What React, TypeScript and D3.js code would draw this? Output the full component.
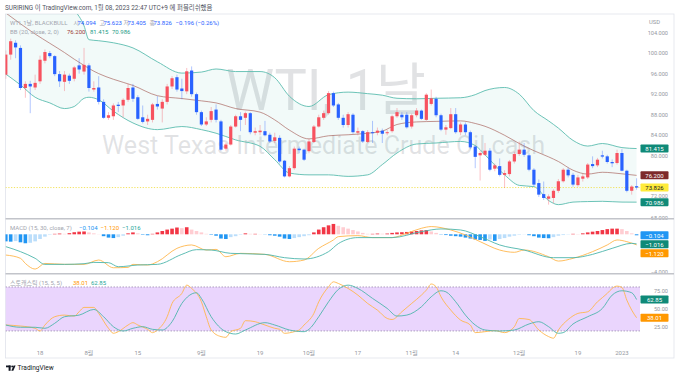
import React from "react";
import * as d3 from "d3";

const W = 680;
const H = 377;

// ---- daily candles (index 0 = Jul 7 2022 ... 129 = Jan 6 2023) ----
const opens = [95.8,99.7,102.0,101.0,93.2,94.0,93.3,94.5,98.5,100.0,
 99.4,95.9,94.4,95.6,95.0,97.6,96.4,97.6,92.9,93.3,
 90.5,87.4,87.7,89.95,89.8,90.9,93.3,91.4,87.5,86.7,
 87.0,90.1,89.2,90.5,93.5,95.3,93.1,92.55,96.6,92.0,
 88.5,86.1,87.0,89.0,86.7,81.4,82.2,85.7,87.7,87.4,
 88.3,84.5,84.6,84.8,84.1,82.9,83.5,79.05,76.0,77.6,
 81.4,81.2,80.9,82.7,85.7,87.4,88.3,92.2,90.0,87.4,
 86.0,88.0,84.5,84.8,82.7,84.6,84.5,84.9,84.4,84.8,
 87.7,88.0,88.0,85.7,87.9,88.8,87.0,90.1,91.1,87.9,
 85.1,85.4,88.1,84.6,86.1,84.6,81.8,80.1,80.2,81.0,
 77.5,78.0,76.3,76.45,78.9,80.35,81.2,80.1,77.3,74.7,
 72.55,71.65,71.8,73.2,75.05,77.3,76.3,74.3,75.55,75.8,
 78.4,78.15,80.1,79.9,78.8,78.6,80.55,77.1,73.2,74.094];
const highs = [100.5,102.8,102.5,101.5,94.5,94.6,95.8,99.5,100.7,100.4,
 99.6,96.5,96.5,96.0,97.5,99.0,101.0,98.0,94.5,95.5,
 91.0,88.5,90.2,90.5,91.2,94.0,94.0,91.8,89.8,88.0,
 90.3,91.6,91.0,94.0,95.5,95.8,95.0,97.1,97.4,92.3,
 88.8,87.5,89.5,90.0,87.0,82.5,86.0,88.0,88.5,88.6,
 88.5,85.5,86.0,86.8,84.5,84.5,84.0,79.2,78.0,81.8,
 81.8,81.4,83.3,86.0,88.0,88.8,92.6,92.5,90.3,88.0,
 88.5,88.3,85.5,85.0,85.0,86.8,85.5,85.3,85.0,88.0,
 89.3,88.5,88.5,88.2,89.3,89.0,92.2,92.9,91.5,88.2,
 86.0,89.3,89.3,86.5,86.5,84.9,82.0,81.0,82.5,81.5,
 78.5,79.5,77.2,79.2,80.8,82.8,82.5,80.5,77.6,75.4,
 75.0,72.5,73.5,75.5,77.6,77.7,76.7,76.3,76.5,78.6,
 79.9,79.6,81.0,80.2,79.3,81.2,81.3,77.3,74.3,75.623];
const lows = [95.0,98.7,99.0,92.8,91.3,88.3,92.8,94.0,98.0,99.0,
 95.5,93.4,92.6,94.0,94.5,96.0,95.8,92.5,92.5,90.0,
 87.2,87.0,87.0,88.5,87.5,90.5,90.5,87.0,86.3,86.0,
 86.5,89.0,86.5,90.0,93.0,92.5,91.0,92.0,91.5,88.0,
 85.8,85.8,86.5,86.5,81.0,81.0,82.0,85.5,84.8,86.0,
 84.2,84.0,84.0,83.8,82.5,82.5,78.5,75.8,75.8,77.3,
 80.5,79.0,80.5,82.5,85.5,87.0,88.0,89.5,87.0,85.5,
 85.5,84.3,84.0,82.5,82.5,82.5,84.0,82.5,84.0,84.5,
 87.4,87.0,85.3,85.3,87.5,87.0,86.8,89.8,87.5,84.8,
 84.1,85.2,84.3,84.0,84.0,81.3,77.6,75.2,80.0,77.0,
 77.0,76.0,73.75,76.0,78.5,80.0,79.8,77.0,74.0,72.0,
 71.4,70.5,70.8,72.8,74.8,75.8,74.0,74.0,75.0,75.5,
 77.6,77.8,79.5,78.5,77.8,78.3,77.0,72.9,72.45,73.405];
const closes = [99.7,102.3,101.1,93.2,94.0,93.5,94.2,98.7,100.2,99.4,
 95.9,94.5,95.8,94.6,97.2,96.8,97.7,93.2,93.2,90.5,
 87.4,87.9,89.8,89.7,90.9,93.2,91.1,87.2,86.6,87.2,
 90.0,89.6,90.5,93.5,95.1,92.9,92.6,96.45,92.0,88.5,
 86.1,86.7,88.7,87.0,81.2,82.2,85.7,87.7,87.0,88.3,
 84.6,84.8,84.9,84.0,82.8,83.6,78.9,76.0,77.6,81.4,
 81.1,79.25,82.8,85.7,87.5,88.3,92.2,89.8,87.4,86.0,
 88.1,84.6,84.8,82.8,84.6,84.4,84.9,84.3,84.6,87.7,
 88.5,87.5,85.55,87.9,88.8,87.2,91.9,91.2,87.9,85.1,
 85.55,88.1,84.6,86.1,84.6,81.65,79.8,80.55,81.0,77.3,
 78.15,76.3,76.65,78.9,80.35,81.2,80.2,77.3,74.4,72.45,
 71.8,72.1,73.2,75.05,77.3,76.2,74.4,75.8,76.0,78.3,
 78.0,79.25,79.85,78.8,78.55,80.55,77.1,73.2,74.02,73.826];

// ---- Bollinger bands (read at these bar indices) ----
const bbIdx = [0,3,6,9,12,14,16,17,19,22,26,31,36,40,43,47,52,55,58,62,66,70,74,77,80,84,88,93,96,98,102,105,108,111,113,116,119,122,126,129];
const bbUpper = [113,112.5,112,111,109.5,108.3,105.3,102.6,102.4,102.0,101.0,98.3,96.1,96.3,96.9,96.4,96.4,95.2,91.6,89.6,91.9,92.4,92.1,91.8,91.2,91.1,91.2,91.3,91.9,92.7,93.3,92.0,88.8,86.8,85.4,83.0,81.9,82.4,81.6,81.415];
const bbBasis = [107.8,105.7,103.7,101.9,100.1,98.8,97.6,97.0,96.0,94.9,93.7,91.7,91.15,90.7,90.3,89.2,88.5,87.0,85.0,83.3,83.9,84.1,84.4,84.8,86.1,86.6,86.7,86.8,86.3,85.75,84.0,82.4,81.0,79.8,78.9,77.2,76.45,76.8,76.5,76.2];
const bbLower = [95.9,93.8,91.4,90.3,89.2,89.6,91.2,91.4,90.9,88.7,86.4,85.1,85.7,85.1,84.4,83.1,81.85,79.25,76.65,76.3,76.3,76.0,76.3,78.3,80.55,82.3,82.5,82.8,82.0,80.2,76.3,74.25,74.0,71.3,70.5,71.0,71.1,71.15,71.0,70.986];

// ---- MACD (15, 30, close, 7) ----
const macdHist = [-0.75,-0.78,-0.72,-0.85,-0.95,-0.9,-0.75,-0.5,-0.25,-0.05,
 0.05,0.08,0.05,0.12,0.22,0.28,0.3,0.2,0.1,0.02,
 -0.2,-0.35,-0.4,-0.3,-0.15,0.1,0.2,0.1,-0.05,-0.1,
 0.05,0.2,0.35,0.5,0.6,0.72,0.65,0.75,0.5,0.35,
 0.2,0.05,-0.05,-0.15,-0.45,-0.5,-0.3,-0.2,-0.05,0.1,
 0.05,0.05,0.02,-0.02,-0.1,-0.15,-0.25,-0.45,-0.5,-0.4,
 -0.3,-0.2,-0.1,0.2,0.5,0.75,0.95,1.1,0.9,0.75,
 0.6,0.45,0.3,0.15,0.05,0.05,0.08,0.06,0.08,0.15,
 0.2,0.22,0.25,0.3,0.35,0.42,0.45,0.3,0.15,-0.03,
 -0.08,-0.15,-0.2,-0.25,-0.35,-0.45,-0.55,-0.6,-0.7,-0.55,
 -0.7,-0.5,-0.4,-0.25,-0.15,-0.05,-0.02,-0.1,-0.2,-0.35,
 -0.4,-0.42,-0.3,-0.15,-0.08,-0.03,0.05,0.03,0.1,0.2,
 0.28,0.35,0.45,0.55,0.6,0.6,0.55,0.35,0.1,-0.104];
const macdIdx = [0,3,4,6,8,12,16,19,22,25,26,29,31,35,38,41,43,45,48,53,58,61,64,67,68,72,75,79,82,85,87,91,94,97,101,104,106,111,113,116,120,123,125,127,129];
const macdLine = [-2.2,-2.55,-3.09,-3.69,-3.09,-3.19,-3.19,-2.73,-3.55,-3.51,-3.19,-3.26,-2.91,-1.49,-1.13,-1.67,-1.6,-2.38,-2.02,-2.13,-2.91,-2.73,-1.49,-0.6,-0.25,-0.14,-0.35,-0.35,0.11,0.64,0.82,0.46,-0.07,-0.78,-1.67,-1.91,-1.67,-2.38,-2.84,-2.55,-1.84,-1.13,-0.6,-0.78,-1.12];
const sigIdx = [0,3,6,8,12,16,18,21,23,27,31,36,39,42,46,53,57,61,66,68,72,79,85,89,93,97,101,106,112,116,120,124,128,129];
const sigLine = [-1.31,-1.84,-2.55,-3.19,-3.19,-3.12,-2.98,-3.01,-3.44,-3.26,-3.19,-2.13,-1.63,-1.67,-2.02,-2.13,-2.48,-2.62,-1.84,-0.99,-0.35,-0.35,0.28,0.57,0.46,-0.25,-1.13,-1.67,-2.48,-2.48,-2.13,-1.49,-0.96,-1.016];

// ---- Stochastic (15, 5, 5) ----
const kIdx = [0,3,6,7,8,10,12,14,15,16,18,19,21,22,23,25,26,27,29,30,31,33,34,36,37,38,40,41,42,44,45,46,48,49,51,52,53,55,56,57,59,60,61,63,64,66,67,68,70,72,74,76,78,79,81,83,85,86,87,88,89,91,93,95,96,98,100,102,104,105,107,109,111,112,113,115,117,119,121,123,124,125,126,127,128,129];
const kVal = [28.1,26.7,23.6,19.9,28.1,39.4,41.6,40.3,46.2,52.1,52.1,43.9,23.6,16.8,19,28.1,31.3,28.1,22.2,17.7,21.3,39.4,57.5,71.2,82.5,78,59.8,39.4,21.3,12.3,11.3,19,23.6,34,32.6,30.4,28.1,23.6,22.2,16.8,19,21.3,28.1,43.9,59.8,80.2,87,84.8,78,68.9,57.5,48.4,37,35.6,46.2,57.5,68.9,75.7,84,80.2,66.6,48.4,34.8,28.1,17.7,19,20.5,17.7,25.8,37,35.6,21.3,12.3,10.1,21.3,35.6,43.9,46.2,59.8,71.2,78,81.2,79.4,62.1,48.4,38.01];
const dIdx = [0,3,6,8,10,12,15,18,20,22,24,26,28,30,32,34,36,39,40,42,45,47,49,53,55,58,61,62,64,66,68,70,72,75,78,80,82,85,87,89,90,92,94,96,98,101,104,107,109,111,113,114,116,119,122,124,126,128,129];
const dVal = [28.1,25,25,23.6,30.4,39.4,41.6,49.3,39.4,25.8,19.9,23.6,25.8,22.2,21.3,32.6,57.5,72.1,64.4,39.4,19,15.8,21.3,31.3,28.1,21.3,19,22.2,39.4,59.8,76.6,82.5,78,64.4,50.7,40.3,41.6,53,66.6,74.8,73.4,59.8,41.6,28.1,21.3,19.9,21.3,29.5,32.6,25.8,16.8,17.7,29.5,39.4,50.7,68.9,74.8,72.1,62.85];

// ---- axes ----
const priceTicks = [104, 100, 96, 92, 88, 84, 80, 76, 72, 68];
const stochTicks = [75, 50, 25];
const macdTicks = [-4];
const timeTickIdx = [7, 17, 27, 40, 52, 62, 72, 83, 92, 105, 117, 126];
const timeTickLabels = ["18", "8월", "15", "9월", "19", "10월", "17", "11월", "14", "12월", "19", "2023"];

const FONT = "Roboto, 'Noto Sans CJK KR', 'DejaVu Sans', sans-serif";
const UP = "#f7525f";
const DOWN = "#2962ff";
const TEAL = "#26a69a";
const ORANGE = "#ffb74d";
const AXIS_TXT = "#9598a1";

export default function App() {
  const n = closes.length;
  const x = d3.scaleLinear().domain([0, n - 1]).range([5.8, 636.6]);
  const yP = d3.scaleLinear().domain([68, 104]).range([217.5, 32.5]);
  const yM = d3.scaleLinear().domain([-4, 0]).range([272, 234.3]);
  const yS = d3.scaleLinear().domain([0, 100]).range([345.6, 272.3]);

  const bbArea = d3.area<number>()
    .x((_, i) => x(bbIdx[i]))
    .y0((_, i) => yP(bbLower[i]))
    .y1((_, i) => yP(bbUpper[i]))
    .curve(d3.curveMonotoneX);
  const mkLine = (idx: number[], vals: number[], y: d3.ScaleLinear<number, number>) =>
    d3.line<number>().x((_, i) => x(idx[i])).y((v) => y(v)).curve(d3.curveMonotoneX)(vals) || "";

  const f3 = d3.format(".3f");
  const f2 = d3.format(".2f");
  const minus = (s: string) => s.replace("-", "−");

  const last = n - 1;
  const lastClose = closes[last];
  const plotL = 5.5, plotR = 640, axL = 640.5, axR = 668.5;

  const priceBoxes = [
    { v: bbUpper[bbUpper.length - 1], fill: "#0f8a78", tc: "#fff" },
    { v: bbBasis[bbBasis.length - 1], fill: "#7e2a2b", tc: "#fff" },
    { v: lastClose, fill: "#ffeb3b", tc: "#131722" },
    { v: bbLower[bbLower.length - 1], fill: "#0f8a78", tc: "#fff" },
  ];
  // tick labels hidden behind a price tag (as the axis does)
  const visiblePriceTicks = priceTicks.filter((t) => priceBoxes.every((b) => Math.abs(yP(t) - yP(b.v)) > 4.5));
  const macdBoxes = [
    { v: macdHist[last], y: 235.2, fill: "#2196f3" },
    { v: sigLine[sigLine.length - 1], y: 244.2, fill: "#0f8a78" },
    { v: macdLine[macdLine.length - 1], y: 253.2, fill: "#ff9800" },
  ];
  const stochBoxes = [
    { v: dVal[dVal.length - 1], fill: "#0f8a78" },
    { v: kVal[kVal.length - 1], fill: "#ff9800" },
  ];

  const histColor = (i: number) => {
    const v = macdHist[i];
    const p = i > 0 ? macdHist[i - 1] : v;
    if (v >= 0) return v >= p ? "#f23645" : "#ffcdd2";
    return v <= p ? "#2196f3" : "#bbdefb";
  };

  const box = (y: number, fill: string, txt: string, tc: string, key: string) => (
    <g key={key}>
      <rect x={axL} y={y - 4} width={axR - axL} height={8} fill={fill} rx={0.8} />
      <text x={(axL + axR) / 2} y={y} fill={tc} fontSize={6} textAnchor="middle" dominantBaseline="central">{txt}</text>
    </g>
  );

  return (
    <svg width={W} height={H} viewBox={`0 0 ${W} ${H}`} style={{ position: "absolute", left: 0, top: 0, background: "#fff" }} fontFamily={FONT}>
      <defs>
        <clipPath id="cp"><rect x={plotL} y={14} width={plotR - plotL} height={204.5} /></clipPath>
        <clipPath id="cm"><rect x={plotL} y={219.5} width={plotR - plotL} height={53.5} /></clipPath>
        <clipPath id="cs"><rect x={plotL} y={274.5} width={plotR - plotL} height={69.5} /></clipPath>
      </defs>
      <rect x={0} y={0} width={W} height={H} fill="#fff" />

      {/* header */}
      <text x={5} y={8} fontSize={6.4} fill="#50535e" dominantBaseline="central">SURIRING 이 TradingView.com, 1월 08, 2023 22:47 UTC+9 에 퍼블리쉬했음</text>

      {/* frame */}
      <rect x={5.5} y={14} width={668.5} height={344} fill="none" stroke="#e0e3eb" strokeWidth={0.8} />

      {/* ===== price pane ===== */}
      <g clipPath="url(#cp)">
        <text x={326} y={110} fontSize={57} fill="#787b86" fillOpacity={0.22} textAnchor="middle" textLength={200} lengthAdjust="spacingAndGlyphs">WTI, 1날</text>
        <text x={323.5} y={154} fontSize={26} fill="#787b86" fillOpacity={0.22} textAnchor="middle" textLength={443} lengthAdjust="spacingAndGlyphs">West Texas Intermediate Crude Oil cash</text>
        <path d={bbArea(bbUpper) || ""} fill={TEAL} fillOpacity={0.06} />
        <path d={mkLine(bbIdx, bbUpper, yP)} fill="none" stroke="#5bbcaf" strokeWidth={0.9} />
        <path d={mkLine(bbIdx, bbLower, yP)} fill="none" stroke="#5bbcaf" strokeWidth={0.9} />
        <path d={mkLine(bbIdx, bbBasis, yP)} fill="none" stroke="#a8625c" strokeWidth={0.8} strokeOpacity={0.85} />
        <line x1={plotL} x2={plotR} y1={yP(lastClose)} y2={yP(lastClose)} stroke="#f2df4a" strokeWidth={0.9} strokeDasharray="1.2,1.6" />
        {closes.map((c, i) => {
          const o = opens[i];
          const up = c >= o;
          const col = up ? UP : DOWN;
          const top = yP(Math.max(o, c));
          const bot = yP(Math.min(o, c));
          return (
            <g key={i}>
              <line x1={x(i)} x2={x(i)} y1={yP(highs[i])} y2={yP(lows[i])} stroke={col} strokeOpacity={0.45} strokeWidth={0.8} />
              <rect x={x(i) - 1.6} y={top} width={3.2} height={Math.max(0.9, bot - top)} fill={col} />
            </g>
          );
        })}
      </g>

      {/* legend price */}
      <g fontSize={6} dominantBaseline="central">
        <text x={10} y={22} fill="#a3a6af">WTI, 1날, BLACKBULL</text>
        <text x={73.5} y={22} fill="#a3a6af">시</text>
        <text x={77.5} y={22} fill={DOWN}>{f3(opens[last])}</text>
        <text x={99.5} y={22} fill="#a3a6af">고</text>
        <text x={103.5} y={22} fill={DOWN}>{f3(highs[last])}</text>
        <text x={123.5} y={22} fill="#a3a6af">저</text>
        <text x={127.5} y={22} fill={DOWN}>{f3(lows[last])}</text>
        <text x={149.5} y={22} fill="#a3a6af">종</text>
        <text x={153.5} y={22} fill={DOWN}>{f3(lastClose)}</text>
        <text x={175.5} y={22} fill={DOWN}>−0.196 (−0.26%)</text>
        <text x={10} y={31.5} fill="#a3a6af">BB (20, close, 2, 0)</text>
        <text x={67} y={31.5} fill="#9c3a35">{f3(bbBasis[bbBasis.length - 1])}</text>
        <text x={90} y={31.5} fill="#1f9c88">{f3(bbUpper[bbUpper.length - 1])}</text>
        <text x={112} y={31.5} fill="#1f9c88">{f3(bbLower[bbLower.length - 1])}</text>
      </g>

      {/* price axis */}
      <text x={649} y={21.5} fontSize={5.8} fill={AXIS_TXT} dominantBaseline="central">USD</text>
      {visiblePriceTicks.map((t) => (
        <text key={t} x={668} y={yP(t) - (t === 72 ? 1 : 0)} fontSize={5.6} fill={AXIS_TXT} textAnchor="end" dominantBaseline="central">{f3(t)}</text>
      ))}
      {priceBoxes.map((b, i) => box(yP(b.v), b.fill, f3(b.v), b.tc, "pb" + i))}

      {/* ===== MACD pane ===== */}
      <g clipPath="url(#cm)">
        {macdHist.map((v, i) => (
          <rect key={i} x={x(i) - 1.8} y={Math.min(yM(v), yM(0))} width={3.6} height={Math.abs(yM(v) - yM(0))} fill={histColor(i)} />
        ))}
        <path d={mkLine(macdIdx, macdLine, yM)} fill="none" stroke={ORANGE} strokeWidth={0.9} />
        <path d={mkLine(sigIdx, sigLine, yM)} fill="none" stroke="#4db6ac" strokeWidth={0.9} />
      </g>
      <g fontSize={6} dominantBaseline="central">
        <text x={10} y={227.5} fill="#a3a6af">MACD (15, 30, close, 7)</text>
        <text x={79} y={227.5} fill="#2196f3">{minus(f3(macdHist[last]))}</text>
        <text x={100.5} y={227.5} fill="#ff9800">{minus(f3(macdLine[macdLine.length - 1]))}</text>
        <text x={122} y={227.5} fill="#26a69a">{minus(f3(sigLine[sigLine.length - 1]))}</text>
      </g>
      {macdTicks.map((t) => (
        <text key={t} x={668} y={yM(t)} fontSize={5.6} fill={AXIS_TXT} textAnchor="end" dominantBaseline="central">{minus(f3(t))}</text>
      ))}
      {macdBoxes.map((b, i) => box(b.y, b.fill, minus(f3(b.v)), "#fff", "mb" + i))}

      {/* ===== Stochastic pane ===== */}
      <g clipPath="url(#cs)">
        <rect x={plotL} y={yS(80)} width={plotR - plotL} height={yS(20) - yS(80)} fill="#ead5fd" />
        <line x1={plotL} x2={plotR} y1={yS(80)} y2={yS(80)} stroke="#8e7fa3" strokeWidth={0.7} strokeDasharray="1.5,1.5" />
        <line x1={plotL} x2={plotR} y1={yS(20)} y2={yS(20)} stroke="#8e7fa3" strokeWidth={0.7} strokeDasharray="1.5,1.5" />
        <path d={mkLine(kIdx, kVal, yS)} fill="none" stroke={ORANGE} strokeWidth={0.9} />
        <path d={mkLine(dIdx, dVal, yS)} fill="none" stroke="#4db6ac" strokeWidth={0.9} />
      </g>
      <g fontSize={6} dominantBaseline="central">
        <text x={10} y={282.5} fill="#a3a6af">스토캐스틱 (15, 5, 5)</text>
        <text x={73} y={282.5} fill="#ff9800">{f2(kVal[kVal.length - 1])}</text>
        <text x={91} y={282.5} fill="#26a69a">{f2(dVal[dVal.length - 1])}</text>
      </g>
      {stochTicks.map((t) => (
        <text key={t} x={668} y={yS(t)} fontSize={5.6} fill={AXIS_TXT} textAnchor="end" dominantBaseline="central">{f2(t)}</text>
      ))}
      {stochBoxes.map((b, i) => box(yS(b.v), b.fill, f2(b.v), "#fff", "sb" + i))}

      {/* pane separators */}
      <line x1={5.5} x2={674} y1={218.8} y2={218.8} stroke="#c2c4ca" strokeWidth={1.5} />
      <line x1={5.5} x2={674} y1={273.8} y2={273.8} stroke="#c2c4ca" strokeWidth={1.5} />

      {/* time axis */}
      {timeTickIdx.map((t, i) => (
        <text key={i} x={x(t)} y={352} fontSize={6} fill={AXIS_TXT} textAnchor="middle" dominantBaseline="central">{timeTickLabels[i]}</text>
      ))}

      {/* TradingView logo */}
      <g fill="#131722">
        <rect x={6} y={365.5} width={4.6} height={1.8} />
        <rect x={8.6} y={365.5} width={2} height={5.3} />
        <circle cx={12.2} cy={366.4} r={0.95} />
        <polygon points="11.3,370.8 13.6,365.5 15.6,365.5 13.3,370.8" />
      </g>
      <text x={17.5} y={368.2} fontSize={6.6} fill="#131722" dominantBaseline="central">TradingView</text>
    </svg>
  );
}
